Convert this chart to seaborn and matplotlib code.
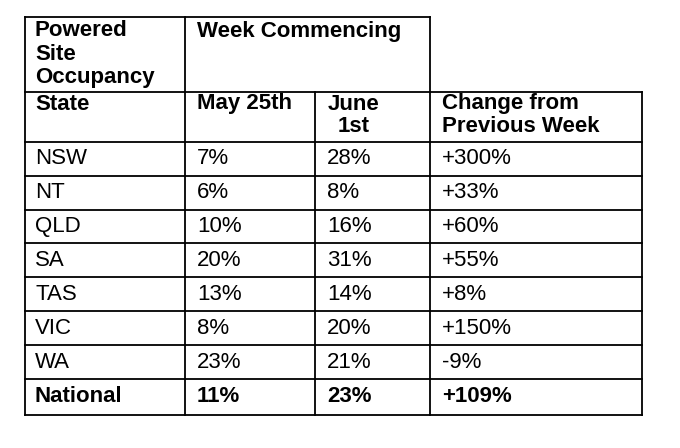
import matplotlib
matplotlib.use("Agg")
import matplotlib.pyplot as plt
import seaborn as sns

states = ["NSW", "NT", "QLD", "SA", "TAS", "VIC", "WA", "National"]
may25 = ["7%", "6%", "10%", "20%", "13%", "8%", "23%", "11%"]
june1 = ["28%", "8%", "16%", "31%", "14%", "20%", "21%", "23%"]
change = ["+300%", "+33%", "+60%", "+55%", "+8%", "+150%", "-9%", "+109%"]

sns.set_theme(style="white")
plt.rcParams['font.family'] = ['Liberation Sans', 'DejaVu Sans']

fig = plt.figure(figsize=(6.8, 4.48), dpi=100)
ax = fig.add_axes([0, 0, 1, 1])
ax.set_xlim(0, 680)
ax.set_ylim(448, 0)
ax.axis("off")

lw = 1.3
rows = [92, 142, 176, 210, 243, 277, 311, 345, 379, 415]

def hl(y, x0, x1):
    ax.plot([x0, x1], [y, y], color="black", lw=lw, solid_capstyle="projecting")

def vl(x, y0, y1):
    ax.plot([x, x], [y0, y1], color="black", lw=lw, solid_capstyle="projecting")

hl(17, 25, 430)
for y in rows:
    hl(y, 25, 642)
vl(25, 17, 415); vl(185, 17, 415); vl(315, 92, 415); vl(430, 17, 415); vl(642, 92, 415)

fs = 16
bold = dict(fontsize=fs, fontweight="bold", color="black", va="center", ha="left")
norm = dict(fontsize=fs, color="black", va="center", ha="left")

ax.text(35, 30, "Powered", **bold)
ax.text(35, 54, "Site", **bold)
ax.text(35, 78, "Occupancy", **bold)
ax.text(197, 32, "Week Commencing", **bold)
ax.text(35, 104, "State", **bold)
ax.text(197, 104, "May 25th", **bold)
ax.text(354, 104, "June", **{**bold, "ha": "center"})
ax.text(354, 127, "1st", **{**bold, "ha": "center"})
ax.text(442, 104, "Change from", **bold)
ax.text(442, 127, "Previous Week", **bold)

tx = [35, 197, 327, 442]
for i in range(len(states)):
    yc = (rows[i + 1] + rows[i + 2]) / 2
    style = bold if states[i] == "National" else norm
    for x, v in zip(tx, [states[i], may25[i], june1[i], change[i]]):
        ax.text(x, yc, v, **style)

fig.savefig("out.png", dpi=100, facecolor="white")
